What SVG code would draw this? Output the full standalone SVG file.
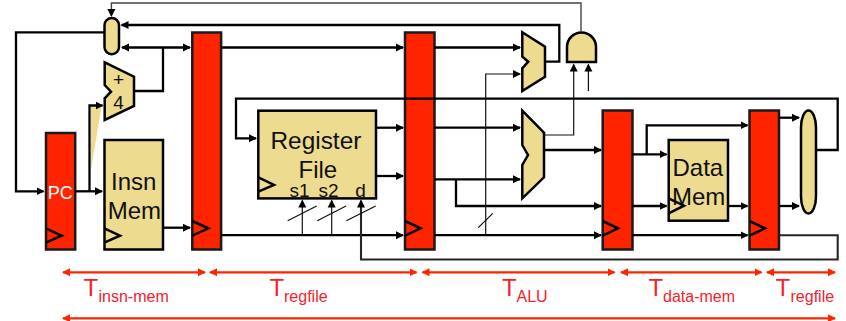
<svg xmlns="http://www.w3.org/2000/svg" width="846" height="321" viewBox="0 0 846 321">
<style>
.reg{fill:#ff2400;stroke:#1a1a1a;stroke-width:2.5}
.blk{fill:#eddb90;stroke:#000;stroke-width:2.5;stroke-linejoin:miter}
.clk{fill:none;stroke:#000;stroke-width:2.5}
.t{font-family:"Liberation Sans",Arial,sans-serif;font-size:24px;fill:#111}
.sm{font-size:19px}
.w{fill:#fff;font-size:18px}
.rt{font-family:"Liberation Sans",Arial,sans-serif;font-size:24px;fill:#f5222a}
.rs{font-family:"Liberation Sans",Arial,sans-serif;font-size:16px;fill:#f5222a}
#connectors path{fill:none}
.k{stroke:#000;stroke-width:2.3;marker-end:url(#a)}
.kn{stroke:#000;stroke-width:2.3}
.th{stroke:#111;stroke-width:1.2;marker-end:url(#a)}
.sl{stroke:#111;stroke-width:1.2}
.g{stroke:#444;stroke-width:1.4;marker-end:url(#a)}
.r{stroke:#ff2400;stroke-width:2.3;marker-end:url(#ar);marker-start:url(#ar)}
</style>
<defs>
<marker id="a" markerUnits="userSpaceOnUse" markerWidth="10" markerHeight="10" refX="7" refY="5" orient="auto-start-reverse"><path d="M0,1 L8,5 L0,9 Z" fill="#000"/></marker>
<marker id="ar" markerUnits="userSpaceOnUse" markerWidth="10" markerHeight="10" refX="7" refY="5" orient="auto-start-reverse"><path d="M0,1 L8,5 L0,9 Z" fill="#ff2400"/></marker>
</defs>
<polygon points="91,106 101.5,106 91,170" fill="#eddb90"/>
<g id="pc"><rect class="reg" x="46" y="133" width="29.2" height="116.5"/><polyline class="clk" points="45.7,228.3 61.7,235.7 45.7,242.7"/><text class="t w" x="47.7" y="199">PC</text></g>
<g id="pipe1"><rect class="reg" x="192.3" y="32.5" width="28.8" height="217"/><polyline class="clk" points="192.3,221 208.3,228.3 192.3,235.7"/></g>
<g id="pipe2"><rect class="reg" x="405" y="32.5" width="29.5" height="217"/><polyline class="clk" points="405,221 420.7,228.3 405,235.7"/></g>
<g id="pipe3"><rect class="reg" x="602.7" y="110.5" width="29.8" height="139"/><polyline class="clk" points="602.7,221 618,228.3 602.7,235.7"/></g>
<g id="pipe4"><rect class="reg" x="749.5" y="110.5" width="29.5" height="139"/><polyline class="clk" points="749.5,221 765,228.3 749.5,235.7"/></g>
<g id="pc-mux"><rect class="blk" x="104.5" y="18" width="14.5" height="36.3" rx="7.2" ry="7.2"/></g>
<g id="adder"><polygon class="blk" points="104.7,62.3 134,76.7 134,106 104.7,120 104.7,98.3 111,91.7 104.7,85"/><text class="t sm" x="113" y="86">+</text><text class="t sm" x="113.3" y="109">4</text></g>
<g id="insn-mem"><rect class="blk" x="104.5" y="140" width="58.5" height="109.5"/><polyline class="clk" points="104.3,228.3 120,235.7 104.3,242.7"/><text class="t" x="111" y="190">Insn</text><text class="t" x="107.7" y="219.3">Mem</text></g>
<g id="register-file"><rect class="blk" x="258.3" y="110.7" width="117.7" height="87.7"/><polyline class="clk" points="258.3,177.3 274,185 258.3,191.7"/><text class="t" x="270.5" y="149.3" style="font-size:24.4px">Register</text><text class="t" x="298.5" y="178">File</text><text class="t sm" x="289.5" y="196.7">s1</text><text class="t sm" x="318.5" y="196.7">s2</text><text class="t sm" x="355.3" y="196.7">d</text></g>
<g id="branch-mux"><polygon class="blk" points="522.3,32.3 545,46.7 545,76.7 522.3,91 522.3,68.3 528.3,61.7 522.3,56.7"/></g>
<g id="and-gate"><path class="blk" d="M567,62 V47 A14.5,14.5 0 0 1 596,47 V62 Z"/></g>
<g id="alu"><polygon class="blk" points="522.3,110.7 544,132.7 544,177.3 522.3,198.3 522.3,165 528,155 522.3,145"/></g>
<g id="data-mem"><rect class="blk" x="668.7" y="140" width="59.3" height="80.7"/><text class="t" x="672.5" y="176">Data</text><text class="t" x="672" y="205">Mem</text><polyline class="clk" points="668.7,198.3 684,205.7 668.7,213.3"/></g>
<g id="wb-mux"><rect class="blk" x="801" y="110.5" width="15" height="103" rx="7.5" ry="17"/></g>
<g id="connectors">
<path class="k" d="M104,32.3 H16 V191.3 H43.5"/>
<path class="k" d="M75,191.3 H102"/>
<path class="k" d="M89.5,191.3 V105.5 H102.5"/>
<path class="kn" d="M134,91 H163 V47.5"/>
<path class="k" style="marker-start:url(#a)" d="M122,47.5 H190"/>
<path class="k" d="M221,47.5 H403"/>
<path class="k" d="M434,47.5 H520"/>
<path class="k" d="M545,61.7 H559.3 V25 H121.5"/>
<path class="k" d="M163,227.7 H190"/>
<path class="k" d="M221,235.2 H403"/>
<path class="k" d="M816,150 H837.7 V98.6 H236 V138.3 H256"/>
<path class="k" d="M376,127.7 H403"/>
<path class="k" d="M376,176 H403"/>
<path class="k" d="M434,127.7 H520"/>
<path class="k" d="M434,179.3 H520"/>
<path class="k" d="M456,179.3 V206 H601"/>
<path class="k" d="M434,235.2 H601"/>
<path class="k" d="M544,150 H601"/>
<path class="th" d="M544,135 H573.7 V64.5"/>
<path class="th" d="M588.4,91 V64.5"/>
<path class="g" d="M581,32 V3 H111.4 V16"/>
<path class="th" d="M485.7,235 V74 H520"/>
<path class="sl" d="M478.3,227.7 L492.7,213.3"/>
<path class="th" d="M302.3,235 V200.5"/>
<path class="th" d="M331.7,235 V200.5"/>
<path class="g" style="stroke:#262626;stroke-width:2.1" d="M779,235.2 H837.7 V259.5 H361 V200.5"/>
<path class="sl" d="M287.7,220.7 L316.7,206"/>
<path class="sl" d="M317.3,220.7 L346,206"/>
<path class="sl" d="M346.3,220.7 L375.7,206"/>
<path class="k" d="M632,154.3 H666.5"/>
<path class="k" d="M646.7,154.3 V125.3 H747.5"/>
<path class="k" d="M632,206 H666.5"/>
<path class="k" d="M728,206 H747.5"/>
<path class="k" d="M632,235.2 H747.5"/>
<path class="k" d="M779,117.7 H799"/>
<path class="k" d="M779,206 H799"/>
<path class="r" d="M63,272.3 H205"/>
<path class="r" d="M210,272.3 H416.5"/>
<path class="r" d="M422.5,272.3 H614.5"/>
<path class="r" d="M621,272.3 H761.5"/>
<path class="r" d="M767,272.3 H835"/>
<path class="r" d="M63,318.3 H835"/>
</g>
<g id="timing-labels">
<text class="rt" x="83.5" y="295.7">T</text><text class="rs" x="98.5" y="301.7">insn-mem</text>
<text class="rt" x="269.5" y="295.7">T</text><text class="rs" x="284" y="301.7">regfile</text>
<text class="rt" x="502" y="295.7">T</text><text class="rs" x="516.5" y="301.7">ALU</text>
<text class="rt" x="648.5" y="295.7">T</text><text class="rs" x="663" y="301.7">data-mem</text>
<text class="rt" x="775.5" y="295.7">T</text><text class="rs" x="790.5" y="301.7">regfile</text>
</g>
</svg>
